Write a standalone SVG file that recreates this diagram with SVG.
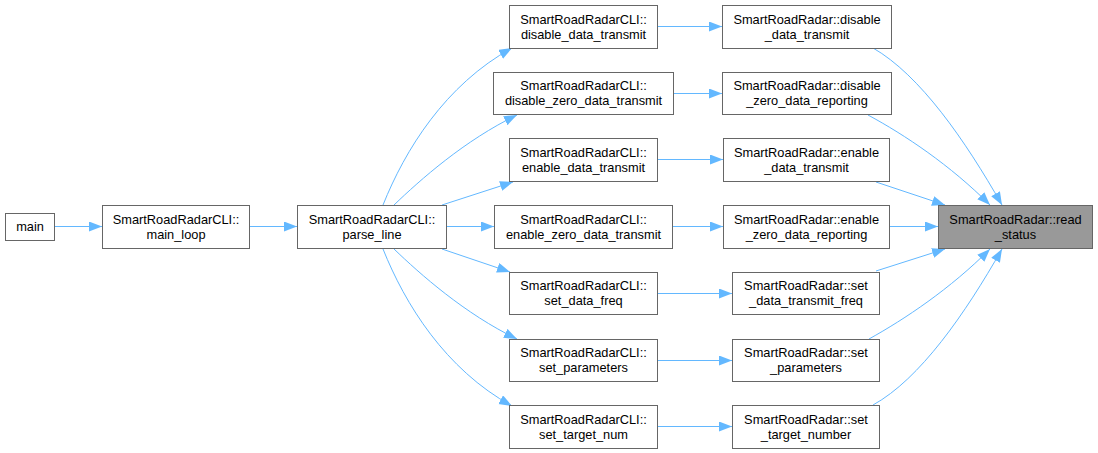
<svg xmlns="http://www.w3.org/2000/svg" width="1098" height="453" viewBox="0 0 1098 453">
<style>
  .box{fill:#ffffff;stroke:#666666;stroke-width:1}
  .cur{fill:#999999;stroke:#666666;stroke-width:1}
  text{font-family:"Liberation Sans",Arial,sans-serif;font-size:12.8px;fill:#000000;text-anchor:middle}
  .e{fill:none;stroke:#63b8ff;stroke-width:1;marker-end:url(#ah)}
</style>
<defs>
  <marker id="ah" markerWidth="15" markerHeight="12" refX="13" refY="5" orient="auto" markerUnits="userSpaceOnUse">
    <path d="M0,0 L13,5 L0,10 Z" fill="#63b8ff"/>
  </marker>
</defs>
<rect width="1098" height="453" fill="#ffffff"/>
<g id="edges">
  <path class="e" d="M54.5,226.5 L102,226.5"/>
  <path class="e" d="M249.5,226.5 L297,226.5"/>
  <path class="e" d="M383,205 C405,150 445,85 512,48"/>
  <path class="e" d="M394,205 C420,180 465,140 517,115"/>
  <path class="e" d="M442,205 L513,182"/>
  <path class="e" d="M446.5,226.5 L494,226.5"/>
  <path class="e" d="M442,249 L510,272"/>
  <path class="e" d="M394,249 C420,274 465,314 517,339"/>
  <path class="e" d="M383,249 C405,304 445,369 512,406"/>
  <path class="e" d="M657.5,26.5 L722,26.5"/>
  <path class="e" d="M673.5,93.5 L722,93.5"/>
  <path class="e" d="M657.5,159.5 L723,159.5"/>
  <path class="e" d="M672.5,226.5 L723,226.5"/>
  <path class="e" d="M657.5,293.5 L732,293.5"/>
  <path class="e" d="M657.5,360.5 L732,360.5"/>
  <path class="e" d="M657.5,426.5 L732,426.5"/>
  <path class="e" d="M873,48 C920,75 965,140 1002,205"/>
  <path class="e" d="M868,115 C905,135 950,165 990,205"/>
  <path class="e" d="M876,182 L945,205"/>
  <path class="e" d="M889.5,226.5 L938,226.5"/>
  <path class="e" d="M876,271 L945,249"/>
  <path class="e" d="M869,339 C905,319 950,289 990,249"/>
  <path class="e" d="M873,405 C920,379 965,314 1002,249"/>
</g>
<g id="main"><rect class="box" x="5.5" y="213.5" width="49" height="27"/><text x="30" y="231">main</text></g>
<g id="main_loop"><rect class="box" x="102.5" y="205.5" width="147" height="43"/><text x="176" y="223.5">SmartRoadRadarCLI::</text><text x="176" y="238.5">main_loop</text></g>
<g id="parse_line"><rect class="box" x="297.5" y="205.5" width="149" height="43"/><text x="372" y="223.5">SmartRoadRadarCLI::</text><text x="372" y="238.5">parse_line</text></g>
<g id="cli_disable_data_transmit"><rect class="box" x="509.5" y="5.5" width="148" height="43"/><text x="583.5" y="23.5">SmartRoadRadarCLI::</text><text x="583.5" y="38.5">disable_data_transmit</text></g>
<g id="cli_disable_zero_data_transmit"><rect class="box" x="493.5" y="72.5" width="180" height="42"/><text x="583.5" y="90">SmartRoadRadarCLI::</text><text x="583.5" y="105">disable_zero_data_transmit</text></g>
<g id="cli_enable_data_transmit"><rect class="box" x="509.5" y="138.5" width="148" height="43"/><text x="583.5" y="156.5">SmartRoadRadarCLI::</text><text x="583.5" y="171.5">enable_data_transmit</text></g>
<g id="cli_enable_zero_data_transmit"><rect class="box" x="494.5" y="205.5" width="178" height="43"/><text x="583.5" y="223.5">SmartRoadRadarCLI::</text><text x="583.5" y="238.5">enable_zero_data_transmit</text></g>
<g id="cli_set_data_freq"><rect class="box" x="509.5" y="272.5" width="148" height="42"/><text x="583.5" y="290">SmartRoadRadarCLI::</text><text x="583.5" y="305">set_data_freq</text></g>
<g id="cli_set_parameters"><rect class="box" x="509.5" y="339.5" width="148" height="42"/><text x="583.5" y="357">SmartRoadRadarCLI::</text><text x="583.5" y="372">set_parameters</text></g>
<g id="cli_set_target_num"><rect class="box" x="509.5" y="405.5" width="148" height="43"/><text x="583.5" y="423.5">SmartRoadRadarCLI::</text><text x="583.5" y="438.5">set_target_num</text></g>
<g id="rr_disable_data_transmit"><rect class="box" x="722.5" y="5.5" width="169" height="43"/><text x="807" y="23.5">SmartRoadRadar::disable</text><text x="807" y="38.5">_data_transmit</text></g>
<g id="rr_disable_zero_data_reporting"><rect class="box" x="722.5" y="72.5" width="169" height="42"/><text x="807" y="90">SmartRoadRadar::disable</text><text x="807" y="105">_zero_data_reporting</text></g>
<g id="rr_enable_data_transmit"><rect class="box" x="723.5" y="138.5" width="166" height="43"/><text x="806.5" y="156.5">SmartRoadRadar::enable</text><text x="806.5" y="171.5">_data_transmit</text></g>
<g id="rr_enable_zero_data_reporting"><rect class="box" x="723.5" y="205.5" width="166" height="43"/><text x="806.5" y="223.5">SmartRoadRadar::enable</text><text x="806.5" y="238.5">_zero_data_reporting</text></g>
<g id="rr_set_data_transmit_freq"><rect class="box" x="732.5" y="272.5" width="147" height="42"/><text x="806" y="290">SmartRoadRadar::set</text><text x="806" y="305">_data_transmit_freq</text></g>
<g id="rr_set_parameters"><rect class="box" x="732.5" y="339.5" width="147" height="42"/><text x="806" y="357">SmartRoadRadar::set</text><text x="806" y="372">_parameters</text></g>
<g id="rr_set_target_number"><rect class="box" x="732.5" y="405.5" width="147" height="43"/><text x="806" y="423.5">SmartRoadRadar::set</text><text x="806" y="438.5">_target_number</text></g>
<g id="rr_read_status"><rect class="cur" x="938.5" y="205.5" width="154" height="43"/><text x="1015.5" y="223.5">SmartRoadRadar::read</text><text x="1015.5" y="238.5">_status</text></g>
</svg>
